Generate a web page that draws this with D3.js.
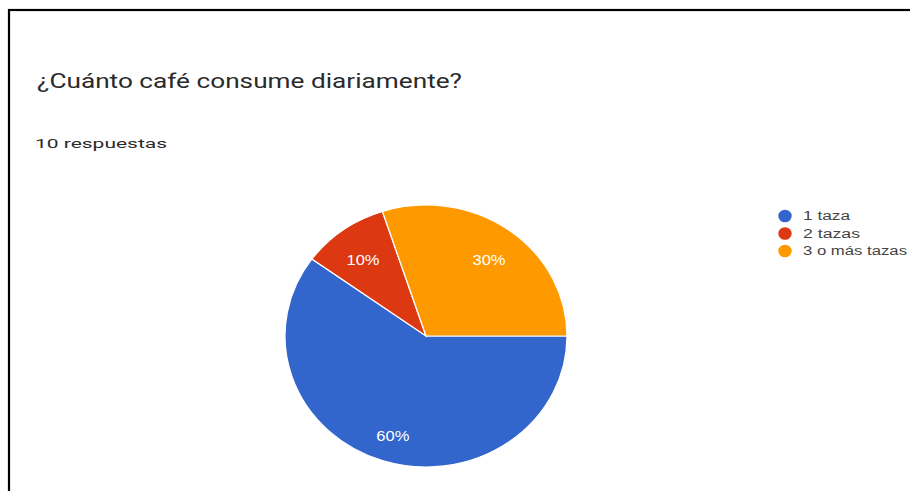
<!DOCTYPE html>
<html>
<head>
<meta charset="utf-8">
<script src="https://cdn.jsdelivr.net/npm/d3@7"></script>
<style>
  html, body { margin: 0; padding: 0; background: #fff; }
  svg { display: block; }
</style>
</head>
<body>
<svg id="chart" width="910" height="491"></svg>
<script>
// Survey answers: "¿Cuánto café consume diariamente?"
const categories = ["1 taza", "2 tazas", "3 o más tazas"];
const responses = [6, 1, 3];
const title = "¿Cuánto café consume diariamente?";
const subtitle = "10 respuestas";
const palette = ["#3366cc", "#dc3912", "#ff9900"];

const svg = d3.select("#chart");
const total = d3.sum(responses);
const pct = d3.format(".0%");

// frame
svg.append("rect")
  .attr("x", 9).attr("y", 10)
  .attr("width", 940).attr("height", 520)
  .attr("fill", "none").attr("stroke", "#000").attr("stroke-width", 2.2);

// headings
svg.append("text")
  .attr("x", 37).attr("y", 88)
  .attr("font-family", "Roboto, Arial, sans-serif")
  .attr("font-size", 21)
  .attr("fill", "#2a2a2a")
  .attr("textLength", 425).attr("lengthAdjust", "spacingAndGlyphs")
  .text(title);

svg.append("text")
  .attr("x", 35).attr("y", 148)
  .attr("font-family", "Roboto, Arial, sans-serif")
  .attr("font-size", 12.5)
  .attr("fill", "#2a2a2a")
  .attr("textLength", 132).attr("lengthAdjust", "spacingAndGlyphs")
  .text(subtitle);

// pie
const cx = 426, cy = 336, r = 131, sx = 141 / 131;
const pie = d3.pie().sort(null)
  .startAngle(Math.PI / 2).endAngle(Math.PI / 2 + 2 * Math.PI);
const arcs = pie(responses);
const arc = d3.arc().innerRadius(0).outerRadius(r);
const labelArc = d3.arc().innerRadius(r * 0.76).outerRadius(r * 0.76);
const color = d3.scaleOrdinal().domain(categories).range(palette);

const g = svg.append("g")
  .attr("transform", `translate(${cx},${cy}) scale(${sx},1)`);

g.selectAll("path")
  .data(arcs)
  .join("path")
  .attr("d", arc)
  .attr("fill", (d, i) => color(categories[i]))
  .attr("stroke", "#fff")
  .attr("stroke-width", 1.2);

svg.append("g")
  .selectAll("text")
  .data(arcs)
  .join("text")
  .attr("x", d => cx + labelArc.centroid(d)[0] * sx)
  .attr("y", d => cy + labelArc.centroid(d)[1])
  .attr("dy", 5)
  .attr("text-anchor", "middle")
  .attr("dominant-baseline", "central")
  .attr("font-family", "Arial, 'Liberation Sans', sans-serif")
  .attr("font-size", 14)
  .attr("fill", "#fff")
  .attr("textLength", 33).attr("lengthAdjust", "spacingAndGlyphs")
  .text(d => pct(d.value / total));

// legend
const legendY = d3.scalePoint().domain(categories).range([216, 251]);
const legendWidths = [47, 57, 104];
const legend = svg.append("g");
legend.selectAll("ellipse")
  .data(categories)
  .join("ellipse")
  .attr("cx", 785)
  .attr("cy", d => legendY(d))
  .attr("rx", 6.7).attr("ry", 6.3)
  .attr("fill", d => color(d));
legend.selectAll("text")
  .data(categories)
  .join("text")
  .attr("x", 803)
  .attr("y", d => legendY(d))
  .attr("dominant-baseline", "central")
  .attr("font-family", "Arial, 'Liberation Sans', sans-serif")
  .attr("font-size", 12)
  .attr("fill", "#444")
  .attr("textLength", (d, i) => legendWidths[i])
  .attr("lengthAdjust", "spacingAndGlyphs")
  .text(d => d);
</script>
</body>
</html>
